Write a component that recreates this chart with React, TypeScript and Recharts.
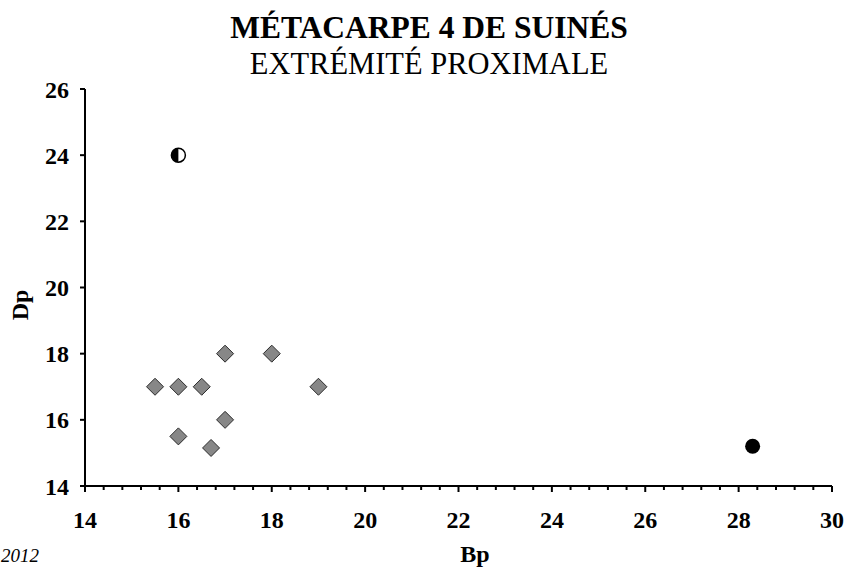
import React from 'react';
import { ScatterChart, Scatter, XAxis, YAxis } from 'recharts';

// values (Bp, Dp)
const diamondBp = [15.5, 16, 16.5, 17, 18, 19, 17, 16, 16.7];
const diamondDp = [17, 17, 17, 18, 18, 17, 16, 15.5, 15.15];
const halfCircleBp = [16];
const halfCircleDp = [24];
const fullCircleBp = [28.3];
const fullCircleDp = [15.2];

const xMajorTicks = [14, 16, 18, 20, 22, 24, 26, 28, 30];
const yTicks = [14, 16, 18, 20, 22, 24, 26];
const xAllTicks = Array.from({ length: 41 }, (_, i) => Math.round((14 + i * 0.4) * 10) / 10);

const toPoints = (bp: number[], dp: number[]) => bp.map((b, i) => ({ bp: b, dp: dp[i] }));
const diamonds = toPoints(diamondBp, diamondDp);
const halfCircles = toPoints(halfCircleBp, halfCircleDp);
const fullCircles = toPoints(fullCircleBp, fullCircleDp);

const FONT = '"Liberation Serif", "Times New Roman", serif';
const W = 848;
const H = 569;

const Diamond = (props: any) => {
  const { cx, cy } = props;
  const r = 8.5;
  return (
    <polygon
      points={`${cx},${cy - r} ${cx + r},${cy} ${cx},${cy + r} ${cx - r},${cy}`}
      fill="#878787"
      stroke="#2b2b2b"
      strokeWidth={1}
    />
  );
};

const HalfCircle = (props: any) => {
  const { cx, cy } = props;
  const r = 7;
  return (
    <g>
      <circle cx={cx} cy={cy} r={r} fill="#fff" stroke="#000" strokeWidth={1.5} />
      <path d={`M ${cx} ${cy - r} A ${r} ${r} 0 0 0 ${cx} ${cy + r} Z`} fill="#000" />
    </g>
  );
};

const FullCircle = (props: any) => {
  const { cx, cy } = props;
  return <circle cx={cx} cy={cy} r={7.5} fill="#000" />;
};

const XTick = (props: any) => {
  const { x, y, payload } = props;
  const v = payload.value;
  const major = xMajorTicks.includes(v);
  return (
    <g>
      <line x1={x} y1={y} x2={x} y2={y + (major ? 6 : 4)} stroke="#000" strokeWidth={2} />
      {major && (
        <text x={x} y={y + 42} textAnchor="middle" fontFamily={FONT} fontSize={24} fontWeight="bold" fill="#000">
          {v}
        </text>
      )}
    </g>
  );
};

export default function App() {
  return (
    <div style={{ position: 'absolute', left: 0, top: 0, width: W, height: H, background: '#fff' }}>
      <ScatterChart width={W} height={H} margin={{ top: 89, right: 16, left: 0, bottom: 0 }}>
        <XAxis
          type="number"
          dataKey="bp"
          domain={[14, 30]}
          ticks={xAllTicks}
          interval={0}
          allowDecimals
          tickLine={false}
          tickSize={0}
          tickMargin={0}
          tick={<XTick />}
          height={83}
          axisLine={{ stroke: '#000', strokeWidth: 2 }}
        />
        <YAxis
          type="number"
          dataKey="dp"
          domain={[14, 26]}
          ticks={yTicks}
          interval={0}
          width={85}
          tickSize={5}
          tickMargin={11}
          tickLine={{ stroke: '#000', strokeWidth: 2 }}
          axisLine={{ stroke: '#000', strokeWidth: 2 }}
          tick={{ fill: '#000', fontSize: 24, fontWeight: 'bold', fontFamily: FONT }}
        />
        <Scatter data={diamonds} shape={<Diamond />} isAnimationActive={false} />
        <Scatter data={halfCircles} shape={<HalfCircle />} isAnimationActive={false} />
        <Scatter data={fullCircles} shape={<FullCircle />} isAnimationActive={false} />
      </ScatterChart>
      <svg width={W} height={H} style={{ position: 'absolute', left: 0, top: 0, pointerEvents: 'none' }}>
        <text x={429} y={38} textAnchor="middle" fontFamily={FONT} fontSize={31.5} fontWeight="bold" fill="#000">
          MÉTACARPE 4 DE SUINÉS
        </text>
        <text x={429} y={74} textAnchor="middle" fontFamily={FONT} fontSize={30.5} fill="#000">
          EXTRÉMITÉ PROXIMALE
        </text>
        <text
          x={0}
          y={0}
          transform="translate(28, 305) rotate(-90)"
          textAnchor="middle"
          fontFamily={FONT}
          fontSize={24}
          fontWeight="bold"
          fill="#000"
        >
          Dp
        </text>
        <text x={475} y={562} textAnchor="middle" fontFamily={FONT} fontSize={24} fontWeight="bold" fill="#000">
          Bp
        </text>
        <text x={1} y={562} textAnchor="start" fontFamily={FONT} fontSize={19} fontStyle="italic" fill="#000">
          2012
        </text>
      </svg>
    </div>
  );
}
